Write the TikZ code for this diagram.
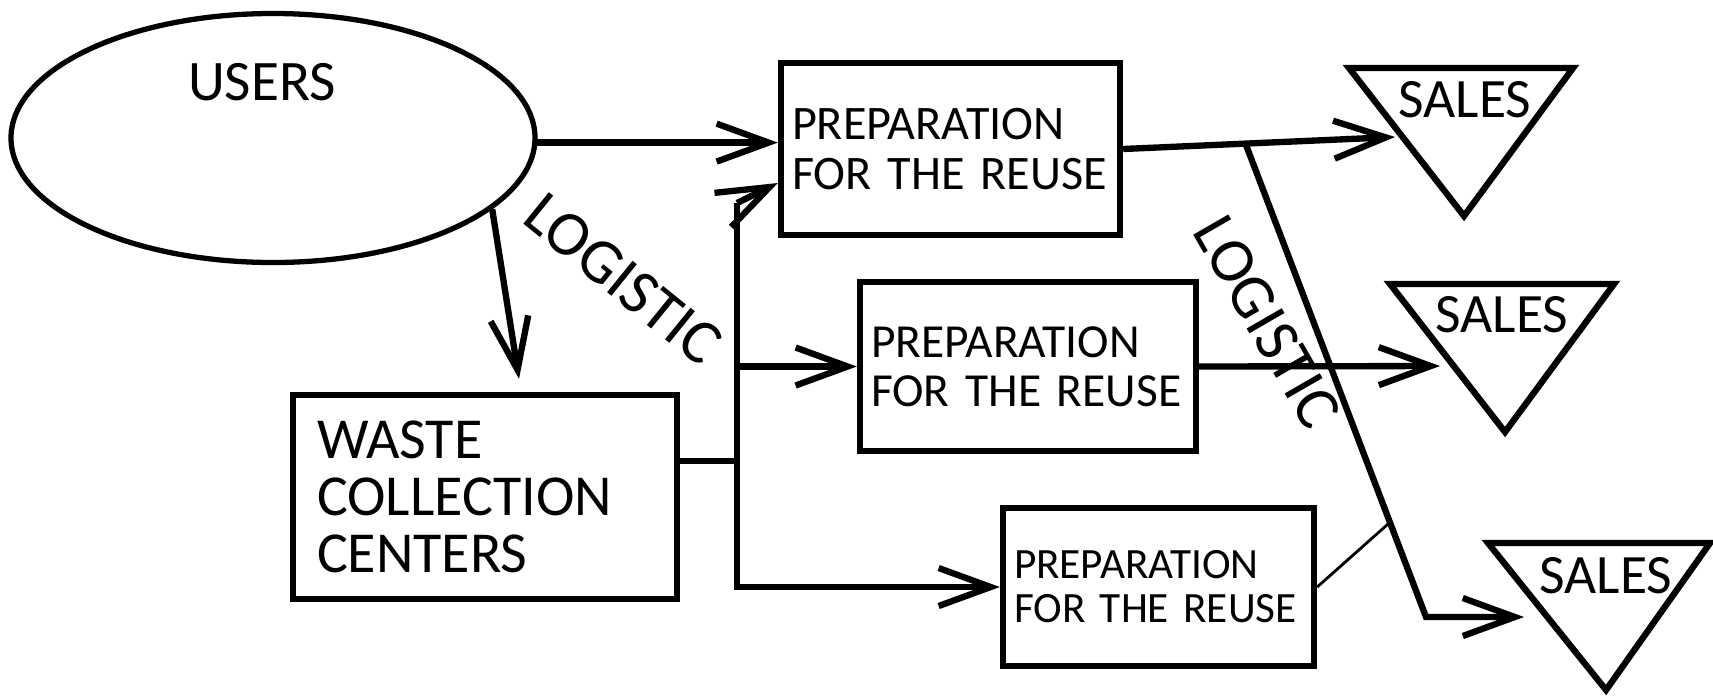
\documentclass[tikz,border=0pt]{standalone}
\usepackage{fontspec}
\setmainfont{Carlito}
\usetikzlibrary{arrows.meta,shapes.geometric,calc}

\begin{document}
\begin{tikzpicture}[
  thickline/.style={line width=1.8pt},
  arrowline/.style={thickline,-{Straight Barb[length=5.2mm,width=3.8mm]}},
  flowbox/.style={rectangle,draw,thickline,align=left,inner xsep=0.11cm},
  salestri/.style={draw,thickline,line join=miter}
]
  \useasboundingbox (0,0) rectangle (17.13,-6.95);
  % draw users ellipse
  \node at(2.73,-1.38)[ellipse,draw,line width=1.5pt,minimum width=5.24cm,minimum height=2.49cm,label={[font=\fontsize{16.3}{16.3}\selectfont,xshift=-0.11cm,yshift=0.56cm]center:USERS}](users){};
  % draw preparation boxes
  \node at(9.505,-1.49)[flowbox,minimum width=3.39cm,minimum height=1.72cm,text width=3.17cm,font=\fontsize{13.7}{14}\selectfont](prep1){PREPARATION\\FOR THE REUSE};
  \node at(10.28,-3.665)[flowbox,minimum width=3.36cm,minimum height=1.69cm,text width=3.14cm,font=\fontsize{13.5}{14}\selectfont](prep2){PREPARATION\\FOR THE REUSE};
  \node at(11.585,-5.87)[flowbox,minimum width=3.11cm,minimum height=1.58cm,text width=2.89cm,font=\fontsize{12.3}{12.5}\selectfont](prep3){PREPARATION\\FOR THE REUSE};
  % draw waste collection box
  \node at(4.85,-4.97)[flowbox,inner xsep=0.24cm,minimum width=3.84cm,minimum height=2.04cm,text width=3.36cm,font=\fontsize{16.5}{16.2}\selectfont](waste){WASTE\\COLLECTION\\CENTERS};
  % draw sales triangles
  \draw[salestri] (13.49,-0.68) -- (15.73,-0.68) -- (14.64,-2.16) -- cycle;
  \node at(14.65,-1.00)[font=\fontsize{15.8}{16}\selectfont](sales1){SALES};
  \draw[salestri] (13.90,-2.84) -- (16.14,-2.84) -- (15.05,-4.32) -- cycle;
  \node at(15.02,-3.15)[font=\fontsize{15.8}{16}\selectfont](sales2){SALES};
  \draw[salestri] (14.88,-5.43) -- (17.10,-5.43) -- (16.06,-6.90) -- cycle;
  \node at(16.06,-5.76)[font=\fontsize{15.8}{16}\selectfont](sales3){SALES};
  \coordinate (tip1) at (13.95,-1.37);
  \coordinate (tip2) at (14.40,-3.66);
  \coordinate (tip3) at (15.24,-6.17);
  % draw "LOGISTIC" texts
  \node at(6.23,-2.79)[rotate=-39,font=\fontsize{18}{18}\selectfont](logistic1){LOGISTIC};
  \node at(12.67,-3.22)[rotate=-60,font=\fontsize{18}{18}\selectfont](logistic2){LOGISTIC};
  % draw arrows from users
  \draw[arrowline](users.-1.5) -- (users.-1.5 -| prep1.west);
  \draw[arrowline](users.-18) -- ([shift={(0.34,0.13)}]waste.north);
  % draw fork from waste collection to preparation
  \coordinate (forktop) at (7.37,-2.03);
  \coordinate (fork) at (7.37,-4.61);
  \draw[thickline](waste.east |- fork) -- (fork);
  \draw[arrowline](forktop) -- ([yshift=-3.4mm]prep1.west);
  \draw[arrowline](forktop) -- (forktop |- prep3.west) -- (prep3.west);
  \draw[arrowline](forktop |- prep2.west) -- (prep2.west);
  % draw arrows to sales
  \draw[arrowline](prep1.east) -- (tip1);
  \draw[arrowline](prep2.east) -- (tip2);
  \coordinate (logtop) at ($(prep1.east)!0.45!(tip1)$);
  \coordinate (logbend) at (14.26,-6.17);
  \draw[arrowline](logtop) -- (logbend) -- (tip3);
  \draw[line width=0.8pt](prep3.east) -- ($(logtop)!0.8!(logbend)$);
\end{tikzpicture}
\end{document}
